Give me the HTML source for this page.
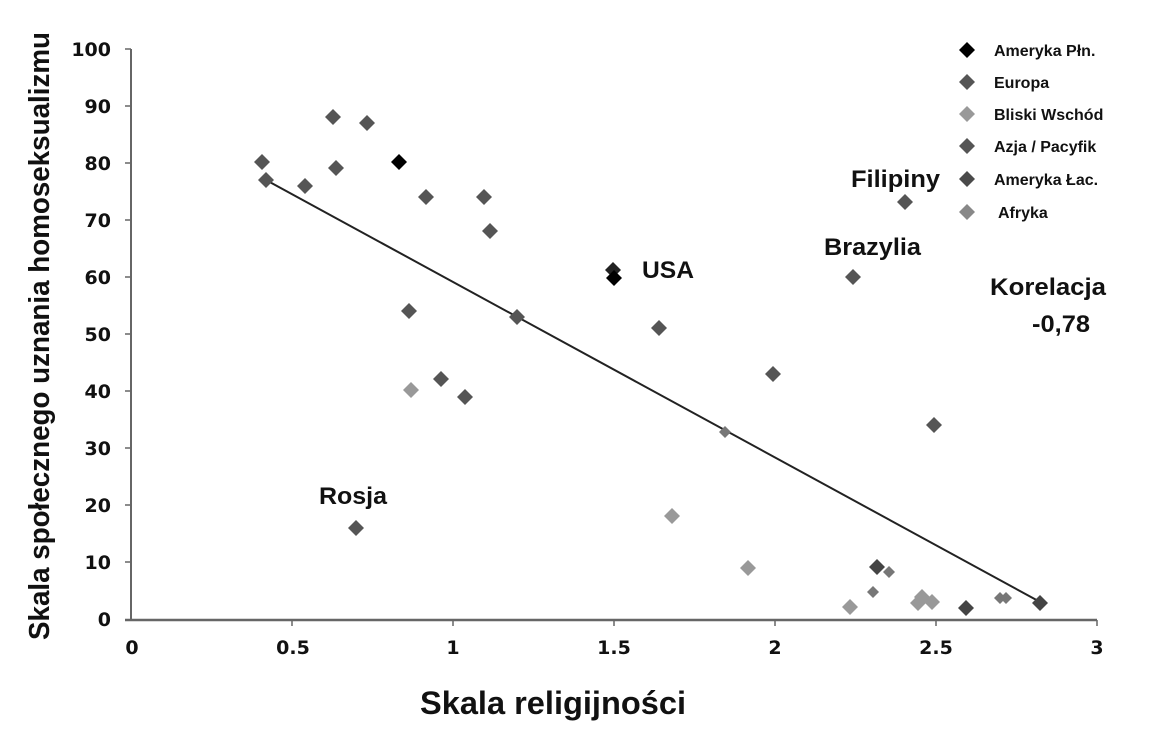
<!DOCTYPE html>
<html><head><meta charset="utf-8"><style>
html,body{margin:0;padding:0;background:#fff;}
svg{display:block;}
.t{font-family:"DejaVu Sans","Liberation Sans",sans-serif;font-weight:bold;font-size:19px;fill:#111;}
.a{font-family:"Liberation Sans",sans-serif;font-weight:bold;fill:#111;}
</style></head><body>
<svg width="1150" height="747" viewBox="0 0 1150 747">
<defs>
<path id="d" d="M0,-8 L8,0 L0,8 L-8,0Z"/>
<path id="s" d="M0,-6 L6,0 L0,6 L-6,0Z"/>
</defs>
<line x1="131" y1="49" x2="131" y2="620" stroke="#666" stroke-width="2"/>
<line x1="125" y1="620" x2="1097" y2="620" stroke="#666" stroke-width="2.5"/>
<g stroke="#666" stroke-width="1.5">
<line x1="125" y1="49" x2="131" y2="49"/><line x1="125" y1="106" x2="131" y2="106"/><line x1="125" y1="163" x2="131" y2="163"/><line x1="125" y1="220" x2="131" y2="220"/><line x1="125" y1="277" x2="131" y2="277"/><line x1="125" y1="334" x2="131" y2="334"/><line x1="125" y1="391" x2="131" y2="391"/><line x1="125" y1="448" x2="131" y2="448"/><line x1="125" y1="505" x2="131" y2="505"/><line x1="125" y1="562" x2="131" y2="562"/>
<line x1="292" y1="620" x2="292" y2="626"/><line x1="453" y1="620" x2="453" y2="626"/><line x1="614" y1="620" x2="614" y2="626"/><line x1="775" y1="620" x2="775" y2="626"/><line x1="936" y1="620" x2="936" y2="626"/><line x1="1097" y1="620" x2="1097" y2="626"/>
</g>
<g class="t" text-anchor="end">
<text x="111" y="56">100</text><text x="111" y="113">90</text><text x="111" y="170">80</text><text x="111" y="227">70</text><text x="111" y="284">60</text><text x="111" y="341">50</text><text x="111" y="398">40</text><text x="111" y="455">30</text><text x="111" y="512">20</text><text x="111" y="569">10</text><text x="111" y="626">0</text>
</g>
<g class="t" text-anchor="middle">
<text x="132" y="654">0</text><text x="293" y="654">0.5</text><text x="453" y="654">1</text><text x="614" y="654">1.5</text><text x="775" y="654">2</text><text x="936" y="654">2.5</text><text x="1097" y="654">3</text>
</g>
<text class="a" x="420" y="714" font-size="32" textLength="266" lengthAdjust="spacingAndGlyphs">Skala religijności</text>
<text class="a" font-size="29" textLength="608" lengthAdjust="spacingAndGlyphs" transform="translate(49,640) rotate(-90)">Skala społecznego uznania homoseksualizmu</text>
<line x1="266" y1="180" x2="1042" y2="603" stroke="#222" stroke-width="2"/>
<g fill="#555">
<use href="#d" x="262" y="162"/><use href="#d" x="266" y="180"/><use href="#d" x="305" y="186"/><use href="#d" x="333" y="117"/><use href="#d" x="336" y="168"/><use href="#d" x="367" y="123"/><use href="#d" x="426" y="197"/><use href="#d" x="484" y="197"/><use href="#d" x="490" y="231"/><use href="#d" x="517" y="317"/><use href="#d" x="409" y="311"/><use href="#d" x="441" y="379"/><use href="#d" x="465" y="397"/><use href="#d" x="356" y="528"/><use href="#d" x="659" y="328"/><use href="#d" x="773" y="374"/><use href="#d" x="853" y="277"/><use href="#d" x="905" y="202"/><use href="#d" x="934" y="425"/>
</g>
<g fill="#444"><use href="#d" x="877" y="567"/><use href="#d" x="966" y="608"/><use href="#d" x="1040" y="603"/></g>
<g fill="#777"><use href="#s" x="889" y="572"/><use href="#s" x="873" y="592"/><use href="#s" x="1000" y="598"/><use href="#s" x="1006" y="598"/><use href="#s" x="725" y="432"/></g>
<g fill="#999"><use href="#d" x="411" y="390"/><use href="#d" x="672" y="516"/><use href="#d" x="748" y="568"/><use href="#d" x="850" y="607"/><use href="#d" x="922" y="597"/><use href="#d" x="918" y="603"/><use href="#d" x="932" y="602"/></g>
<g fill="#222"><use href="#d" x="613" y="270"/></g>
<g fill="#000"><use href="#d" x="399" y="162"/><use href="#d" x="614" y="278"/></g>
<g class="a" font-size="24">
<text x="642" y="278" textLength="52" lengthAdjust="spacingAndGlyphs">USA</text>
<text x="851" y="187" textLength="89" lengthAdjust="spacingAndGlyphs">Filipiny</text>
<text x="824" y="255" textLength="97" lengthAdjust="spacingAndGlyphs">Brazylia</text>
<text x="319" y="504" textLength="68" lengthAdjust="spacingAndGlyphs">Rosja</text>
<text x="990" y="295" textLength="116" lengthAdjust="spacingAndGlyphs">Korelacja</text>
<text x="1032" y="332" textLength="58" lengthAdjust="spacingAndGlyphs">-0,78</text>
</g>
<g fill="#000"><use href="#d" x="967" y="50"/></g>
<g fill="#555"><use href="#d" x="967" y="82"/></g>
<g fill="#999"><use href="#d" x="967" y="114"/></g>
<g fill="#555"><use href="#d" x="967" y="146"/></g>
<g fill="#4a4a4a"><use href="#d" x="967" y="179"/></g>
<g fill="#888"><use href="#d" x="967" y="212"/></g>
<g class="a" font-size="16">
<text x="994" y="56">Ameryka Płn.</text>
<text x="994" y="88">Europa</text>
<text x="994" y="120">Bliski Wschód</text>
<text x="994" y="152">Azja / Pacyfik</text>
<text x="994" y="185">Ameryka Łac.</text>
<text x="998" y="218">Afryka</text>
</g>
</svg>
</body></html>
